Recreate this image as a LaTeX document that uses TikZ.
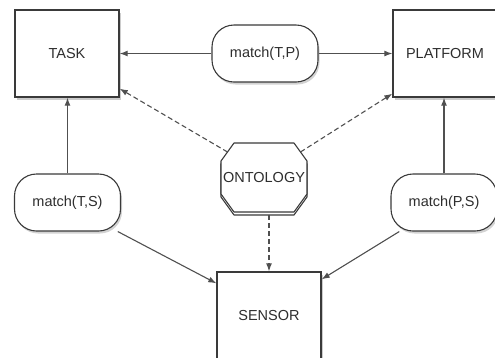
\documentclass[tikz,border=0pt]{standalone}
\usepackage{fontspec}
\setmainfont{Liberation Sans}
\usetikzlibrary{shadows,arrows.meta}
\definecolor{ink}{HTML}{2E2E2E}
\definecolor{edge}{HTML}{3A3A3A}
\definecolor{conn}{HTML}{505050}
\begin{document}
\begin{tikzpicture}[x=1pt,y=-1pt,
  every node/.style={font=\fontsize{14.5}{16}\selectfont, text=ink},
  boxnode/.style={draw=edge, line width=1.4pt, fill=white, minimum width=104pt, minimum height=87pt, inner sep=0pt,
    drop shadow={shadow xshift=1.5pt, shadow yshift=-2.5pt, opacity=.4}},
  matchnode/.style={draw=edge, line width=1.1pt, fill=white, rounded corners=22pt, minimum width=106pt, minimum height=57pt, inner sep=0pt,
    drop shadow={shadow xshift=1.5pt, shadow yshift=-2.5pt, opacity=.35}},
  octline/.style={draw=edge, line width=1.1pt, fill=white, line join=round},
  link/.style={draw=conn, line width=1.1pt, -{Latex[length=8pt,width=6pt]}},
  dlink/.style={link, dash pattern=on 5pt off 3pt}
]
\useasboundingbox (0,0) rectangle (495,357);
\node[boxnode] (task) at (67,53.5) {TASK};
\node[boxnode] (plat) at (445,53.5) {PLATFORM};
\node[boxnode] (sensor) at (269,315.5) {SENSOR};
\node[matchnode] (mtp) at (265,53.5) {match(T,P)};
\node[matchnode] (mts) at (67.5,202.5) {match(T,S)};
\node[matchnode] (mps) at (444,202.5) {match(P,S)};

% ONTOLOGY octagon (with offset copy behind)
\path[octline, shift={(264,180.5)}]
  (-30,-34.5) -- (30,-34.5) -- (43,-16.5) -- (43,16.5) -- (30,34.5) -- (-30,34.5) -- (-43,16.5) -- (-43,-16.5) -- cycle;
\path[octline, shift={(264,177.5)}]
  (-30,-34.5) -- (30,-34.5) -- (43,-16.5) -- (43,16.5) -- (30,34.5) -- (-30,34.5) -- (-43,16.5) -- (-43,-16.5) -- cycle;
\node[inner sep=0pt, minimum width=86pt, minimum height=69pt] (ont) at (264,177.5) {ONTOLOGY};
\coordinate (ontul) at (227.5,152);
\coordinate (ontur) at (300.5,152);
\coordinate (ontbot) at (269,215);

\draw[link] (mtp.west) -- (task.east);
\draw[link] (mtp.east) -- (plat.west);
\draw[link] (mts.north) -- (mts.north |- task.south);
\draw[link] (mps.north) -- (mps.north |- plat.south);
\draw[link] (mts.-30) -- ([yshift=-12pt]sensor.north west);
\draw[link] (mps.-147) -- ([yshift=-8pt]sensor.north east);
\draw[dlink] (ontul) -- ([yshift=9pt]task.south east);
\draw[dlink] (ontur) -- ([yshift=4pt]plat.south west);
\draw[dlink] (ontbot) -- (sensor.north);
\end{tikzpicture}
\end{document}
